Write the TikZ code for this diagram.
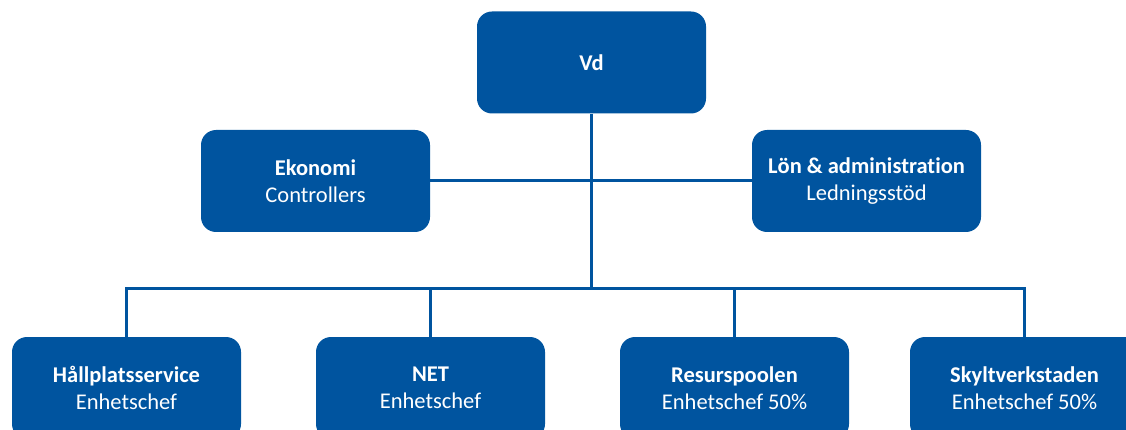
\documentclass[tikz,border=0pt]{standalone}
\usepackage{fontspec}
\setmainfont[RawFeature={-liga}]{Carlito}
\definecolor{orgblue}{RGB}{0,84,159}
\begin{document}
\begin{tikzpicture}[x=1pt,y=-1pt,
  orgbox/.style={rectangle, rounded corners=15pt, fill=orgblue, text=white,
    minimum width=229pt, minimum height=102pt, inner sep=0pt, align=center,
    font=\fontsize{22.5}{27}\selectfont},
  link/.style={draw=orgblue, line width=3pt}]
\useasboundingbox (0,0) rectangle (1126,430);
\clip (0,0) rectangle (1126,430);
\node[orgbox] (vd) at (591.5,62.5) {\textbf{Vd}};
\node[orgbox] (eko) at (315.5,181) {\textbf{Ekonomi}\\Controllers};
\node[orgbox] (lon) at (866.5,181) {\textbf{Lön \& administration}\\Ledningsstöd};
\node[orgbox] (hall) at (126.5,388) {\textbf{Hållplatsservice}\\Enhetschef};
\node[orgbox] (net) at (430.5,388) {\textbf{NET}\\Enhetschef};
\node[orgbox] (res) at (734.5,388) {\textbf{Resurspoolen}\\Enhetschef 50\%};
\node[orgbox] (sky) at (1024.5,388) {\textbf{Skyltverkstaden}\\Enhetschef 50\%};
\coordinate (bus) at (591.5,288);
\draw[link] (vd.south) -- (bus);
\draw[link] (eko.east) -- (lon.west);
\draw[link] (hall.north) |- (bus);
\draw[link] (net.north) |- (bus);
\draw[link] (res.north) |- (bus);
\draw[link] (sky.north) |- (bus);
\end{tikzpicture}
\end{document}
